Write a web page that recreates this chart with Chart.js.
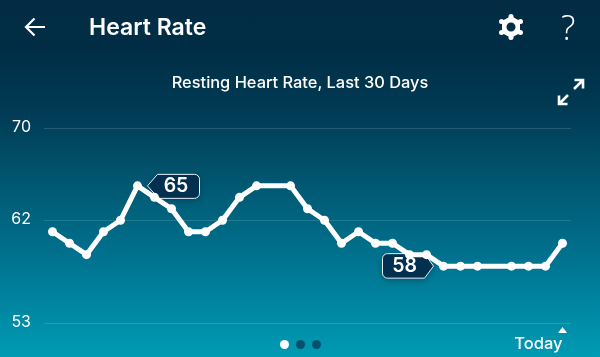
<!DOCTYPE html>
<html lang="en">
<head>
  <meta charset="UTF-8">
  <title>Heart Rate</title>
  <script src="https://cdn.jsdelivr.net/npm/chart.js"></script>
  <style>
    html, body { margin: 0; padding: 0; }
    body {
      width: 600px; height: 357px; position: relative; overflow: hidden; color: #fff;
      font-family: Inter, sans-serif;
      background: linear-gradient(to bottom, #042c44 0, #002e46 50px, #013a54 110px, #015a74 190px, #007390 260px, #009bb4 357px);
    }
    canvas { position: absolute; left: 0; top: 0; }
    .text { position: absolute; white-space: nowrap; }
    #heading { left: 89px; top: 12px; font-size: 23px; font-weight: 600; line-height: 30px; }
    #subtitle { left: 0; width: 600px; text-align: center; top: 72px; font-size: 16.4px; font-weight: 500; line-height: 20px; }
    #help { left: 561px; top: 7px; font-size: 34px; line-height: 40px; font-family: "Open Sans", sans-serif; font-weight: 300; }
    svg { position: absolute; }
    .dot { position: absolute; top: 340px; width: 9px; height: 9px; border-radius: 50%; background: #02506c; }
  </style>
</head>
<body>
  <canvas id="rhrChart" width="600" height="357"></canvas>

  <div class="text" id="heading">Heart Rate</div>
  <div class="text" id="subtitle">Resting Heart Rate, Last 30 Days</div>
  <div class="text" id="help">?</div>

  <svg style="left:22px;top:14px" width="26" height="26" viewBox="0 0 26 26" fill="none" stroke="#fff" stroke-width="2.2">
    <path d="M23 13H4M12.5 4.5L4 13l8.500 8.500"/>
  </svg>
  <svg style="left:498px;top:13px" width="26" height="28" viewBox="0 0 26 28">
    <path fill="#fff" fill-rule="evenodd" d="M13 3l9 5v12l-9 5l-9-5V8zM13 9.500a4.500 4.500 0 1 0 0 9a4.500 4.500 0 0 0 0-9z"/>
    <g fill="#fff">
      <circle cx="13" cy="3.500" r="2.500"/><circle cx="13" cy="24.500" r="2.500"/>
      <circle cx="3.500" cy="8.500" r="2.500"/><circle cx="22.500" cy="8.500" r="2.500"/>
      <circle cx="3.500" cy="19.500" r="2.500"/><circle cx="22.500" cy="19.500" r="2.500"/>
    </g>
  </svg>
  <svg style="left:556px;top:77px" width="30" height="30" viewBox="0 0 30 30" fill="none" stroke="#fff" stroke-width="2.600">
    <path d="M3 27L12 18M3 18.500V27h8.500M27 3L18 12M18.500 3H27v8.500"/>
  </svg>

  <div class="dot" style="left:279.500px;background:#fff"></div>
  <div class="dot" style="left:295.500px"></div>
  <div class="dot" style="left:311.500px"></div>

  <script>
    // one slot per day, null where the tracker has no reading
    const days = ['', '', '', '', '', '', '', '', '', '', '', '', '', '', '', '', '', '', '', '', '', '', '', '', '', '', '', '', '', '', 'Today'];
    const restingRate = [61, 60, 59, 61, 62, 65, 64, 63, 61, 61, 62, 64, 65, null, 65, 63, 62, 60, 61, 60, 60, 59, 59, 58, 58, 58, null, 58, 58, 58, 60];
    const yTicks = [53, 62, 70];
    const highDay = 5;
    const lowDay = 23;

    function tagPath(ctx, pts) {
      ctx.beginPath();
      pts.forEach((p, i) => {
        if (p.length === 2) {
          if (i === 0) ctx.moveTo(p[0], p[1]); else ctx.lineTo(p[0], p[1]);
        } else {
          ctx.arcTo(p[0], p[1], p[2], p[3], p[4]);
        }
      });
      ctx.closePath();
    }

    function drawTag(ctx, pts, text, cx, cy) {
      ctx.save();
      ctx.shadowColor = 'rgba(0,30,50,0.35)';
      ctx.shadowBlur = 6;
      ctx.shadowOffsetY = 2;
      tagPath(ctx, pts);
      ctx.fillStyle = '#02304e';
      ctx.fill();
      ctx.shadowColor = 'transparent';
      ctx.strokeStyle = '#e6f2f5';
      ctx.lineWidth = 1;
      ctx.stroke();
      ctx.fillStyle = '#fff';
      ctx.font = '600 19.5px Inter, sans-serif';
      ctx.textAlign = 'center';
      ctx.textBaseline = 'middle';
      ctx.fillText(text, cx, cy);
      ctx.restore();
    }

    // callouts sit under the line, the "today" marker sits on the x axis
    const decorations = {
      id: 'decorations',
      beforeDatasetsDraw(chart) {
        const { ctx, scales } = chart;
        const hx = scales.x.getPixelForValue(highDay);
        const hy = scales.y.getPixelForValue(restingRate[highDay]);
        const t = hy - 11.5, b = hy + 12.5;
        drawTag(ctx, [
          [hx + 10, hy], [hx + 20, t],
          [hx + 62, t, hx + 62, t + 6, 5], [hx + 62, b, hx + 56, b, 5],
          [hx + 21, b]
        ], String(restingRate[highDay]), hx + 38.5, hy + 0.5);

        const lx = scales.x.getPixelForValue(lowDay);
        const ly = scales.y.getPixelForValue(restingRate[lowDay]);
        const t2 = ly - 12.5, b2 = ly + 12;
        drawTag(ctx, [
          [lx - 10, ly], [lx - 19, b2],
          [lx - 61, b2, lx - 61, b2 - 6, 5], [lx - 61, t2, lx - 55, t2, 5],
          [lx - 19, t2]
        ], String(restingRate[lowDay]), lx - 39, ly);
      },
      afterDraw(chart) {
        const { ctx, scales } = chart;
        const x = scales.x.getPixelForValue(days.length - 1);
        ctx.save();
        ctx.fillStyle = '#fff';
        ctx.beginPath();
        ctx.moveTo(x, 327);
        ctx.lineTo(x + 4.5, 333);
        ctx.lineTo(x - 4.5, 333);
        ctx.closePath();
        ctx.fill();
        ctx.restore();
      }
    };

    new Chart(document.getElementById('rhrChart').getContext('2d'), {
      type: 'line',
      data: {
        labels: days,
        datasets: [{
          data: restingRate,
          spanGaps: true,
          borderColor: '#fff',
          backgroundColor: '#fff',
          borderWidth: 5,
          tension: 0,
          pointRadius: 4.5,
          pointBackgroundColor: '#fff',
          pointBorderWidth: 0,
          borderJoinStyle: 'round'
        }]
      },
      options: {
        responsive: false,
        animation: false,
        layout: { padding: { left: 0, right: 29, top: 128.5, bottom: 0 } },
        plugins: { legend: { display: false }, tooltip: { enabled: false } },
        scales: {
          x: {
            offset: true,
            afterFit: s => { s.height = 33.5; },
            grid: { display: false },
            border: { display: false },
            ticks: {
              autoSkip: false,
              maxRotation: 0,
              align: 'end',
              padding: 3,
              color: '#fff',
              font: { family: 'Inter, sans-serif', size: 16.5, weight: '500' }
            }
          },
          y: {
            min: 53,
            max: 70,
            afterFit: s => { s.width = 44; },
            afterBuildTicks: s => { s.ticks = yTicks.map(v => ({ value: v })); },
            grid: { color: 'rgba(255,255,255,0.14)', drawTicks: false },
            border: { display: false },
            ticks: {
              padding: 13,
              labelOffset: -1,
              color: '#fff',
              font: { family: 'Inter, sans-serif', size: 16, weight: '400' }
            }
          }
        }
      },
      plugins: [decorations]
    });
  </script>
</body>
</html>
